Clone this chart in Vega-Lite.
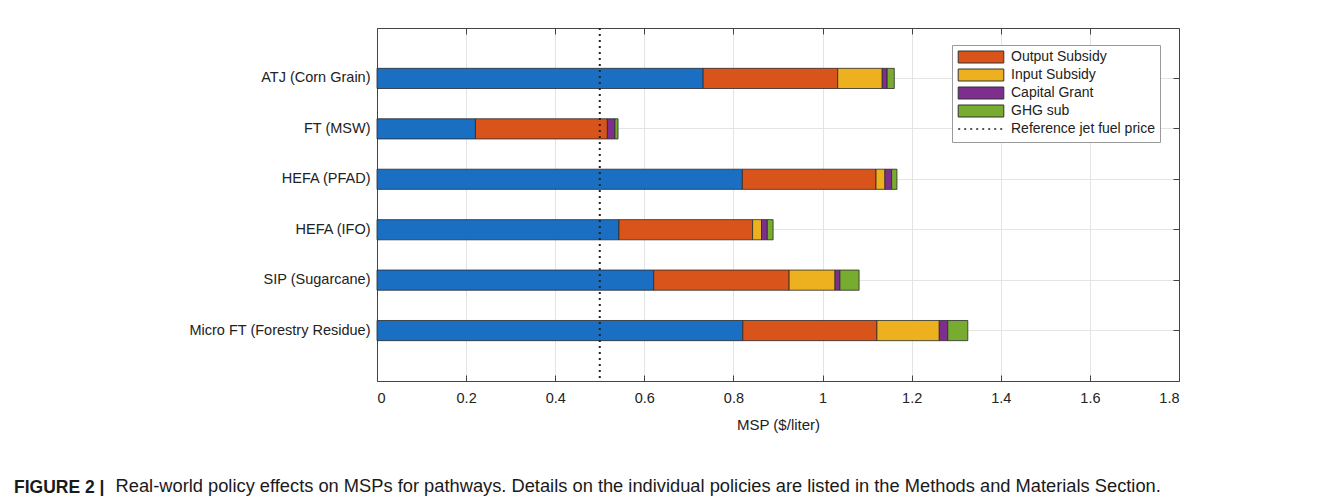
{
  "$schema": "https://vega.github.io/schema/vega-lite/v6.json",
  "autosize": {"type": "none"},
  "width": 802,
  "height": 353,
  "padding": {"left": 377, "top": 28, "right": 163, "bottom": 115},
  "background": "white",
  "config": {
    "font": "Liberation Sans",
    "view": {"stroke": null},
    "axis": {"labelFont": "Liberation Sans", "titleFont": "Liberation Sans", "labelColor": "#222", "titleColor": "#222", "titleFontWeight": "normal"},
    "legend": {"labelFont": "Liberation Sans"}
  },
  "title": {
    "text": "FIGURE 2 |",
    "subtitle": "\u200b\u00a0\u00a0\u00a0\u00a0\u00a0\u00a0\u00a0\u00a0\u00a0\u00a0\u00a0\u00a0\u00a0\u00a0\u00a0\u00a0\u00a0\u00a0\u00a0\u00a0Real-world policy effects on MSPs for pathways. Details on the individual policies are listed in the Methods and Materials Section.",
    "orient": "bottom",
    "anchor": "start",
    "frame": "group",
    "dx": -363,
    "offset": 46,
    "font": "Liberation Sans",
    "fontSize": 17.5,
    "fontWeight": "bold",
    "color": "#1a1a1a",
    "subtitleFont": "Liberation Sans",
    "subtitleFontSize": 18.3,
    "subtitleColor": "#1a1a1a",
    "subtitlePadding": -18
  },
  "data": {
    "values": [
      {"pathway": "ATJ (Corn Grain)", "component": "MSP", "k": 0, "value": 0.732},
      {"pathway": "ATJ (Corn Grain)", "component": "Output Subsidy", "k": 1, "value": 0.302},
      {"pathway": "ATJ (Corn Grain)", "component": "Input Subsidy", "k": 2, "value": 0.100},
      {"pathway": "ATJ (Corn Grain)", "component": "Capital Grant", "k": 3, "value": 0.011},
      {"pathway": "ATJ (Corn Grain)", "component": "GHG sub", "k": 4, "value": 0.016},
      {"pathway": "FT (MSW)", "component": "MSP", "k": 0, "value": 0.221},
      {"pathway": "FT (MSW)", "component": "Output Subsidy", "k": 1, "value": 0.296},
      {"pathway": "FT (MSW)", "component": "Capital Grant", "k": 3, "value": 0.017},
      {"pathway": "FT (MSW)", "component": "GHG sub", "k": 4, "value": 0.007},
      {"pathway": "HEFA (PFAD)", "component": "MSP", "k": 0, "value": 0.820},
      {"pathway": "HEFA (PFAD)", "component": "Output Subsidy", "k": 1, "value": 0.300},
      {"pathway": "HEFA (PFAD)", "component": "Input Subsidy", "k": 2, "value": 0.020},
      {"pathway": "HEFA (PFAD)", "component": "Capital Grant", "k": 3, "value": 0.015},
      {"pathway": "HEFA (PFAD)", "component": "GHG sub", "k": 4, "value": 0.012},
      {"pathway": "HEFA (IFO)", "component": "MSP", "k": 0, "value": 0.543},
      {"pathway": "HEFA (IFO)", "component": "Output Subsidy", "k": 1, "value": 0.300},
      {"pathway": "HEFA (IFO)", "component": "Input Subsidy", "k": 2, "value": 0.020},
      {"pathway": "HEFA (IFO)", "component": "Capital Grant", "k": 3, "value": 0.013},
      {"pathway": "HEFA (IFO)", "component": "GHG sub", "k": 4, "value": 0.013},
      {"pathway": "SIP (Sugarcane)", "component": "MSP", "k": 0, "value": 0.621},
      {"pathway": "SIP (Sugarcane)", "component": "Output Subsidy", "k": 1, "value": 0.304},
      {"pathway": "SIP (Sugarcane)", "component": "Input Subsidy", "k": 2, "value": 0.103},
      {"pathway": "SIP (Sugarcane)", "component": "Capital Grant", "k": 3, "value": 0.011},
      {"pathway": "SIP (Sugarcane)", "component": "GHG sub", "k": 4, "value": 0.043},
      {"pathway": "Micro FT (Forestry Residue)", "component": "MSP", "k": 0, "value": 0.821},
      {"pathway": "Micro FT (Forestry Residue)", "component": "Output Subsidy", "k": 1, "value": 0.301},
      {"pathway": "Micro FT (Forestry Residue)", "component": "Input Subsidy", "k": 2, "value": 0.140},
      {"pathway": "Micro FT (Forestry Residue)", "component": "Capital Grant", "k": 3, "value": 0.019},
      {"pathway": "Micro FT (Forestry Residue)", "component": "GHG sub", "k": 4, "value": 0.045}
    ]
  },
  "resolve": {"axis": {"x": "independent", "y": "independent"}},
  "layer": [
    {
      "mark": {"type": "bar", "stroke": "#2a2a2a", "strokeWidth": 0.8},
      "encoding": {
        "y": {
          "field": "pathway", "type": "nominal",
          "sort": ["ATJ (Corn Grain)", "FT (MSW)", "HEFA (PFAD)", "HEFA (IFO)", "SIP (Sugarcane)", "Micro FT (Forestry Residue)"],
          "scale": {"paddingInner": 0.6, "paddingOuter": 0.8},
          "axis": {
            "orient": "left", "title": null, "bandPosition": 0.5,
            "grid": true, "gridColor": "#e4e4e4", "gridWidth": 1,
            "domainColor": "#444", "tickColor": "#444", "tickSize": -6,
            "labelFontSize": 14.5, "labelPadding": 13, "labelLimit": 400
          }
        },
        "x": {
          "field": "value", "type": "quantitative", "stack": "zero",
          "scale": {"domain": [0, 1.8], "nice": false},
          "axis": {
            "orient": "bottom", "title": "MSP ($/liter)", "values": [0, 0.2, 0.4, 0.6, 0.8, 1, 1.2, 1.4, 1.6, 1.8],
            "format": "~g", "grid": true, "gridColor": "#e4e4e4", "gridWidth": 1,
            "domainColor": "#444", "tickColor": "#444", "tickSize": -6,
            "labelFontSize": 14.5, "labelPadding": 16, "titleFontSize": 15, "titlePadding": 13
          }
        },
        "order": {"field": "k", "type": "quantitative"},
        "color": {
          "field": "component", "type": "nominal",
          "scale": {
            "domain": ["MSP", "Output Subsidy", "Input Subsidy", "Capital Grant", "GHG sub", "Reference jet fuel price"],
            "range": ["#1a6fc2", "#d9541a", "#edb120", "#7e2f8e", "#77ac30", "transparent"]
          },
          "legend": {
            "title": null,
            "values": ["Output Subsidy", "Input Subsidy", "Capital Grant", "GHG sub", "Reference jet fuel price"],
            "orient": "none", "legendX": 575, "legendY": 17,
            "direction": "vertical",
            "fillColor": "white", "strokeColor": "#999", "padding": 5,
            "symbolType": "M-3.8,-1H3.8V1H-3.8Z",
            "symbolSize": 144, "symbolOffset": 17, "labelOffset": 23,
            "labelFontSize": 14, "labelColor": "#222", "rowPadding": 2,
            "symbolStrokeWidth": 1, "symbolStrokeColor": "#333"
          }
        }
      }
    },
    {
      "data": {"values": [{"label": "Reference jet fuel price", "price": 0.5}]},
      "mark": {"type": "rule", "strokeWidth": 2, "color": "#222"},
      "encoding": {
        "x": {
          "field": "price", "type": "quantitative",
          "axis": {
            "orient": "top", "title": null, "labels": false, "grid": false,
            "values": [0, 0.2, 0.4, 0.6, 0.8, 1, 1.2, 1.4, 1.6, 1.8],
            "domainColor": "#444", "tickColor": "#444", "tickSize": -6
          }
        },
        "strokeDash": {
          "field": "label", "type": "nominal",
          "scale": {"domain": ["Reference jet fuel price"], "range": [[2, 4]]},
          "legend": {
            "title": null,
            "orient": "none", "legendX": 578, "legendY": 92,
            "direction": "vertical",
            "fillColor": "white", "padding": 2,
            "symbolType": "M-3.8,0H3.8",
            "symbolSize": 144, "symbolOffset": 17, "labelOffset": 23,
            "labelFontSize": 14, "labelColor": "#222",
            "symbolStrokeWidth": 1.5, "symbolStrokeColor": "#222"
          }
        }
      }
    },
    {
      "mark": {"type": "point", "opacity": 0},
      "encoding": {
        "y": {
          "field": "pathway", "type": "nominal",
          "sort": ["ATJ (Corn Grain)", "FT (MSW)", "HEFA (PFAD)", "HEFA (IFO)", "SIP (Sugarcane)", "Micro FT (Forestry Residue)"],
          "axis": {
            "orient": "right", "title": null, "labels": false, "grid": false, "bandPosition": 0.5,
            "domainColor": "#444", "tickColor": "#444", "tickSize": -6
          }
        },
        "x": {"field": "value", "type": "quantitative", "axis": null}
      }
    }
  ]
}
